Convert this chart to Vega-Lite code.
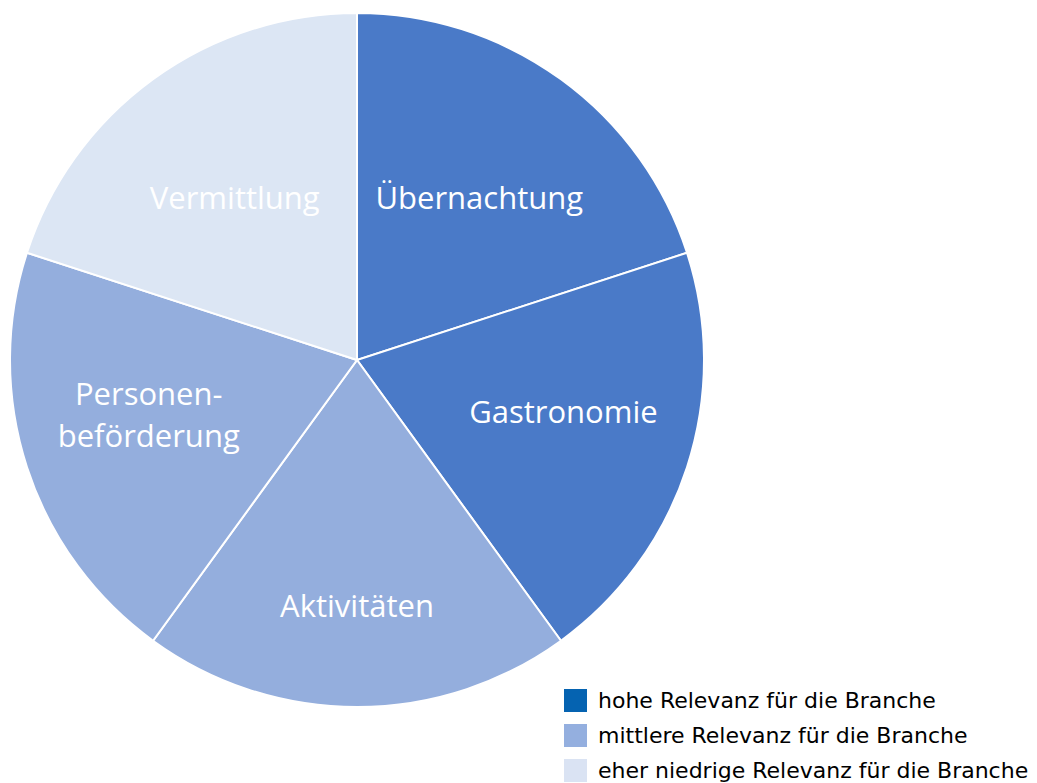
{
  "$schema": "https://vega.github.io/schema/vega-lite/v6.json",
  "width": 714,
  "height": 720,
  "padding": 0,
  "background": "white",
  "config": {"view": {"stroke": null}},
  "data": {
    "values": [
      {"segment": "Übernachtung", "label": "Übernachtung", "relevanz": "hohe Relevanz für die Branche", "o": 1, "share": 1},
      {"segment": "Gastronomie", "label": "Gastronomie", "relevanz": "hohe Relevanz für die Branche", "o": 2, "share": 1},
      {"segment": "Aktivitäten", "label": "Aktivitäten", "relevanz": "mittlere Relevanz für die Branche", "o": 3, "share": 1},
      {"segment": "Personenbeförderung", "label": "Personen-\nbeförderung", "relevanz": "mittlere Relevanz für die Branche", "o": 4, "share": 1},
      {"segment": "Vermittlung", "label": "Vermittlung", "relevanz": "eher niedrige Relevanz für die Branche", "o": 5, "share": 1}
    ]
  },
  "encoding": {
    "theta": {"field": "share", "type": "quantitative", "stack": true},
    "order": {"field": "o", "type": "quantitative"}
  },
  "layer": [
    {
      "mark": {"type": "arc", "outerRadius": 346},
      "encoding": {
        "color": {
          "field": "relevanz",
          "type": "nominal",
          "scale": {
            "domain": ["hohe Relevanz für die Branche", "mittlere Relevanz für die Branche", "eher niedrige Relevanz für die Branche"],
            "range": ["#0563b1", "#94afdf", "#dae3f3"]
          },
          "legend": {
            "title": null,
            "orient": "none",
            "legendX": 564,
            "legendY": 689,
            "symbolType": "square",
            "symbolSize": 529,
            "symbolStrokeWidth": 0,
            "symbolOpacity": 1,
            "labelFontSize": 22,
            "labelFont": "DejaVu Sans",
            "labelColor": "black",
            "labelLimit": 600,
            "rowPadding": 12,
            "labelOffset": 11,
            "padding": 0
          }
        }
      }
    },
    {
      "mark": {"type": "arc", "outerRadius": 347, "stroke": "white", "strokeWidth": 2},
      "encoding": {
        "fill": {
          "field": "relevanz",
          "type": "nominal",
          "scale": {
            "domain": ["hohe Relevanz für die Branche", "mittlere Relevanz für die Branche", "eher niedrige Relevanz für die Branche"],
            "range": ["#4a7ac8", "#94aedd", "#dce6f4"]
          },
          "legend": null
        }
      }
    },
    {
      "mark": {"type": "text", "radius": 208, "dy": 8, "fontSize": 31, "font": "Open Sans", "fill": "white"},
      "encoding": {"text": {"condition": {"test": "datum.segment === 'Übernachtung' || datum.segment === 'Vermittlung'", "field": "label", "type": "nominal"}, "value": ""}}
    },
    {
      "mark": {"type": "text", "radius": 217, "dy": -13, "fontSize": 31, "font": "Open Sans", "fill": "white"},
      "encoding": {"text": {"condition": {"test": "datum.segment === 'Gastronomie'", "field": "label", "type": "nominal"}, "value": ""}}
    },
    {
      "mark": {"type": "text", "radius": 248, "fontSize": 31, "font": "Open Sans", "fill": "white"},
      "encoding": {"text": {"condition": {"test": "datum.segment === 'Aktivitäten'", "field": "label", "type": "nominal"}, "value": ""}}
    },
    {
      "mark": {"type": "text", "radius": 219, "dy": -32, "fontSize": 31, "font": "Open Sans", "fill": "white", "lineBreak": "\n", "lineHeight": 42},
      "encoding": {"text": {"condition": {"test": "datum.segment === 'Personenbeförderung'", "field": "label", "type": "nominal"}, "value": ""}}
    }
  ]
}
